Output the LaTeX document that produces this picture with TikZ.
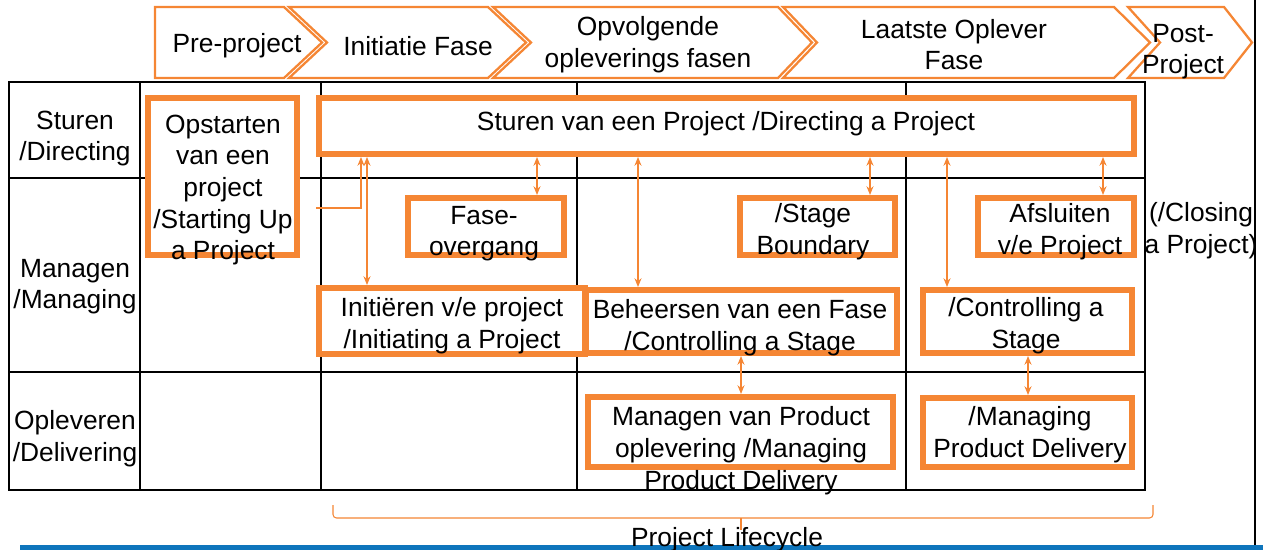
\documentclass[tikz,border=0pt]{standalone}
\usepackage{fontspec}
\setmainfont{Liberation Sans}
\usetikzlibrary{arrows.meta}
\definecolor{oranje}{RGB}{245,134,52}
\definecolor{balk}{RGB}{14,117,188}

\begin{document}
\begin{tikzpicture}[x=0.02cm,y=-0.02cm,
  font=\fontsize{15}{18}\selectfont,
  proc/.style={draw=oranje,line width=3.4pt,fill=white,inner sep=0pt},
  tekst/.style={align=center,inner sep=0pt,yshift=-1.5pt},
  fase/.style={draw=oranje,line width=1.3pt,fill=white},
  pijl/.style={oranje,line width=0.7pt,{Stealth[length=5pt,width=4pt]}-{Stealth[length=5pt,width=4pt]}},
  raster/.style={line width=0.9pt}]

\useasboundingbox (0,0) rectangle (1263,550);

% fasen bovenaan
\draw[fase] (155,7) -- (284,7) -- (322,42.5) -- (284,78) -- (155,78) -- cycle;
\draw[fase] (289,7) -- (488,7) -- (526,42.5) -- (488,78) -- (289,78) -- (327,42.5) -- cycle;
\draw[fase] (493,7) -- (778,7) -- (812,42.5) -- (778,78) -- (493,78) -- (531,42.5) -- cycle;
\draw[fase] (783,7) -- (1114,7) -- (1150,42.5) -- (1114,78) -- (783,78) -- (817,42.5) -- cycle;
\draw[fase] (1128,7) -- (1224,7) -- (1252,42.5) -- (1224,78) -- (1128,78) -- (1160,42.5) -- cycle;
\node[tekst] (pre) at (237,43) {Pre-project};
\node[tekst] (init-f) at (418,43) {Initiatie Fase};
\node[tekst] (opv-f) at (648,42) {Opvolgende\\opleverings fasen};
\node[tekst] (laatste-f) at (954,42) {Laatste Oplever\\Fase};
\node[tekst] (post-f) at (1183,49) {Post-\\Project};

% raster
\draw[raster] (9,82) rectangle (1145,490);
\foreach \y in {178,372} \draw[raster] (9,\y) -- (1145,\y);
\foreach \x in {140,321,577,906} \draw[raster] (\x,82) -- (\x,490);

\node[tekst] (sturen) at (75,136) {Sturen\\/Directing};
\node[tekst] (managen) at (75,284) {Managen\\/Managing};
\node[tekst] (opleveren) at (75,436) {Opleveren\\/Delivering};

% processen
\node[proc,minimum width=2.98cm,minimum height=3.14cm] (start) at (222.5,176.5) {};
\node[proc,minimum width=16.3cm,minimum height=1.12cm] (steer) at (726.5,126) {};
\node[proc,minimum width=3.12cm,minimum height=1.14cm] (fase) at (486,226.5) {};
\node[proc,minimum width=3.1cm,minimum height=1.14cm] (stage) at (817.5,226.5) {};
\node[proc,minimum width=3.12cm,minimum height=1.14cm] (close) at (1056,226.5) {};
\node[proc,minimum width=5.32cm,minimum height=1.32cm] (init) at (452,321) {};
\node[proc,minimum width=6.22cm,minimum height=1.26cm] (ctrl) at (741.5,321.5) {};
\node[proc,minimum width=4.18cm,minimum height=1.26cm] (ctrl2) at (1027.5,321.5) {};
\node[proc,minimum width=6.1cm,minimum height=1.4cm] (deliv) at (740.5,432) {};
\node[proc,minimum width=4.18cm,minimum height=1.38cm] (deliv2) at (1027.5,432.5) {};

\node[tekst] (start-t) at (223,187.5) {Opstarten\\van een\\project\\/Starting Up\\a Project};
\node[tekst] (steer-t) at (726,121) {Sturen van een Project /Directing a Project};
\node[tekst] (fase-t) at (484,231) {Fase-\\overgang};
\node[tekst] (stage-t) at (813,229) {/Stage\\Boundary};
\node[tekst] (close-t) at (1060,229) {Afsluiten\\v/e Project};
\node[tekst] (closing) at (1201,228) {(/Closing\\a Project)};
\node[tekst] (init-t) at (452,323) {Initiëren v/e project\\/Initiating a Project};
\node[tekst] (ctrl-t) at (740,325) {Beheersen van een Fase\\/Controlling a Stage};
\node[tekst] (ctrl2-t) at (1026,323) {/Controlling a\\Stage};
\node[tekst] (deliv-t) at (741,448) {Managen van Product\\oplevering /Managing\\Product Delivery};
\node[tekst] (deliv2-t) at (1030,432) {/Managing\\Product Delivery};

% verbindingen
\draw[oranje,line width=0.7pt,-{Stealth[length=5pt,width=4pt]}] (steer.west |- 0,208) -- (361,208) -- (steer.south -| 361,0);
\draw[pijl] (steer.south -| 367,0) -- (init.north -| 367,0);
\draw[pijl] (steer.south -| 537,0) -- (fase.north -| 537,0);
\draw[pijl] (steer.south -| 638,0) -- (ctrl.north -| 638,0);
\draw[pijl] (steer.south -| 870,0) -- (stage.north -| 870,0);
\draw[pijl] (steer.south -| 947,0) -- (ctrl2.north -| 947,0);
\draw[pijl] (steer.south -| 1103,0) -- (close.north -| 1103,0);
\draw[pijl] (ctrl.south -| 741,0) -- (deliv.north -| 741,0);
\draw[pijl] (ctrl2.south -| 1028,0) -- (deliv2.north -| 1028,0);

% accolade en balk
\draw[oranje,line width=0.6pt,rounded corners=2pt] (333,505) |- (741,518) -| (1153,505);
\draw[oranje,line width=0.6pt] (741,518) -- (741,530);
\draw[line width=1.5pt] (1255,0) -- (1255,545);
\fill[balk] (20,545) rectangle (1263,550);
\node[tekst] (cyclus) at (727,537) {Project Lifecycle};
\end{tikzpicture}
\end{document}
